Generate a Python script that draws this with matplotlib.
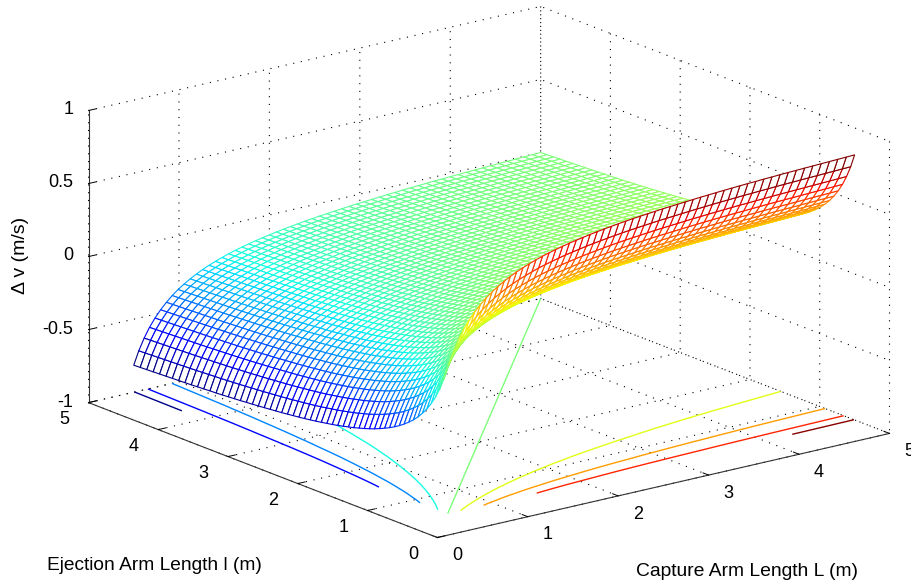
import numpy as np
import matplotlib
matplotlib.use('Agg')
import matplotlib.pyplot as plt

plt.rcParams['font.family'] = ['Liberation Sans', 'DejaVu Sans']

# Mesh line positions along both arm axes (m), closer together at short lengths
arm_lengths = [0.500, 0.556, 0.615, 0.674, 0.735, 0.797, 0.861, 0.925, 0.990, 1.056,
               1.124, 1.192, 1.261, 1.332, 1.403, 1.475, 1.548, 1.621, 1.695, 1.770,
               1.845, 1.921, 1.997, 2.075, 2.153, 2.231, 2.310, 2.390, 2.470, 2.551,
               2.632, 2.714, 2.796, 2.879, 2.962, 3.045, 3.129, 3.214, 3.299, 3.385,
               3.471, 3.557, 3.644, 3.731, 3.819, 3.907, 3.996, 4.085, 4.175, 4.265,
               4.355, 4.446, 4.537, 4.629, 4.721, 4.813, 4.907, 5.000]

# Edge profile at those positions. The mesh is too dense
# to read cell by cell, so each cell is the difference of two profile values.
arm_term = [0.905, 0.814, 0.736, 0.671, 0.616, 0.568, 0.526, 0.489, 0.457, 0.429,
            0.403, 0.380, 0.359, 0.340, 0.323, 0.307, 0.292, 0.279, 0.267, 0.256,
            0.245, 0.236, 0.227, 0.218, 0.210, 0.203, 0.196, 0.189, 0.183, 0.177,
            0.172, 0.167, 0.162, 0.157, 0.153, 0.149, 0.145, 0.141, 0.137, 0.134,
            0.130, 0.127, 0.124, 0.121, 0.118, 0.116, 0.113, 0.111, 0.108, 0.106,
            0.104, 0.102, 0.100, 0.098, 0.096, 0.094, 0.092, 0.090]

contour_levels = [-0.8, -0.6, -0.4, -0.2, 0, 0.2, 0.4, 0.6, 0.8]
arm_ticks = [0, 1, 2, 3, 4, 5]
dv_ticks = [-1, -0.5, 0, 0.5, 1]
dv_labels = ['-1', '-0.5', '0', '0.5', '1']

L, l = np.meshgrid(arm_lengths, arm_lengths)
term = np.array(arm_term)
dv = term[:, None] - term[None, :]

fig = plt.figure(figsize=(9.12, 5.84), dpi=100)
# oversized square axes so the box fits the figure in pixels
ax = fig.add_axes([-24.5 / 912, -201.5 / 584, 1000 / 912, 1000 / 584],
                  projection='3d', proj_type='ortho')
ax.patch.set_visible(False)
ax.computed_zorder = False
ax.view_init(elev=17.36, azim=-127.65)
ax.set_box_aspect((571, 571, 306), zoom=0.8384)
ax.set_xlim(0, 5, view_margin=0)
ax.set_ylim(0, 5, view_margin=0)
ax.set_zlim(-1, 1, view_margin=0)

vmin, vmax = dv.min(), dv.max()
ax.contour(L, l, dv, levels=contour_levels, zdir='z', offset=-1, cmap='jet',
           vmin=vmin, vmax=vmax, linewidths=1.0, zorder=1)

# white faces hide what is behind, edges take the colour
surf = ax.plot_surface(L, l, dv, rstride=1, cstride=1, color='white', shade=False,
                       linewidth=0.8, zorder=2)
cmap = plt.get_cmap('jet')
surf.set_edgecolor(cmap((dv[:-1, :-1] - vmin) / (vmax - vmin)).reshape(-1, 4))

ax.set_xticks(arm_ticks)
ax.set_yticks(arm_ticks)
ax.set_zticks(dv_ticks)
ax.set_xticklabels([str(t) for t in arm_ticks], fontsize=13, ha='left', va='center')
ax.set_yticklabels([str(t) for t in arm_ticks], fontsize=13, ha='right', va='center')
ax.set_zticklabels(dv_labels, fontsize=13, ha='right', va='center')
ax.tick_params(axis='x', pad=8)
ax.tick_params(axis='y', pad=8)
ax.tick_params(axis='z', pad=-1)

for axis in (ax.xaxis, ax.yaxis, ax.zaxis):
    axis.pane.set_visible(False)
    axis.line.set_color('#333333')
    axis.line.set_linewidth(0.8)
    axis._axinfo['grid'].update(color='black', linewidth=0.8, linestyle=(0, (1, 6)))
    axis._axinfo['tick'].update(inward_factor=0.0, outward_factor=0.2)
    axis._axinfo['tick']['linewidth'] = {True: 0.7, False: 0.7}

fig.text(47 / 912, 1 - 565 / 584, 'Ejection Arm Length l (m)', fontsize=13.8, va='center')
fig.text(636 / 912, 1 - 571 / 584, 'Capture Arm Length L (m)', fontsize=13.9, va='center')
fig.text(21 / 912, 1 - 255 / 584, '\u0394 v (m/s)', fontsize=14, rotation=90,
         va='center', ha='center')

fig.savefig('out.png', dpi=100)
